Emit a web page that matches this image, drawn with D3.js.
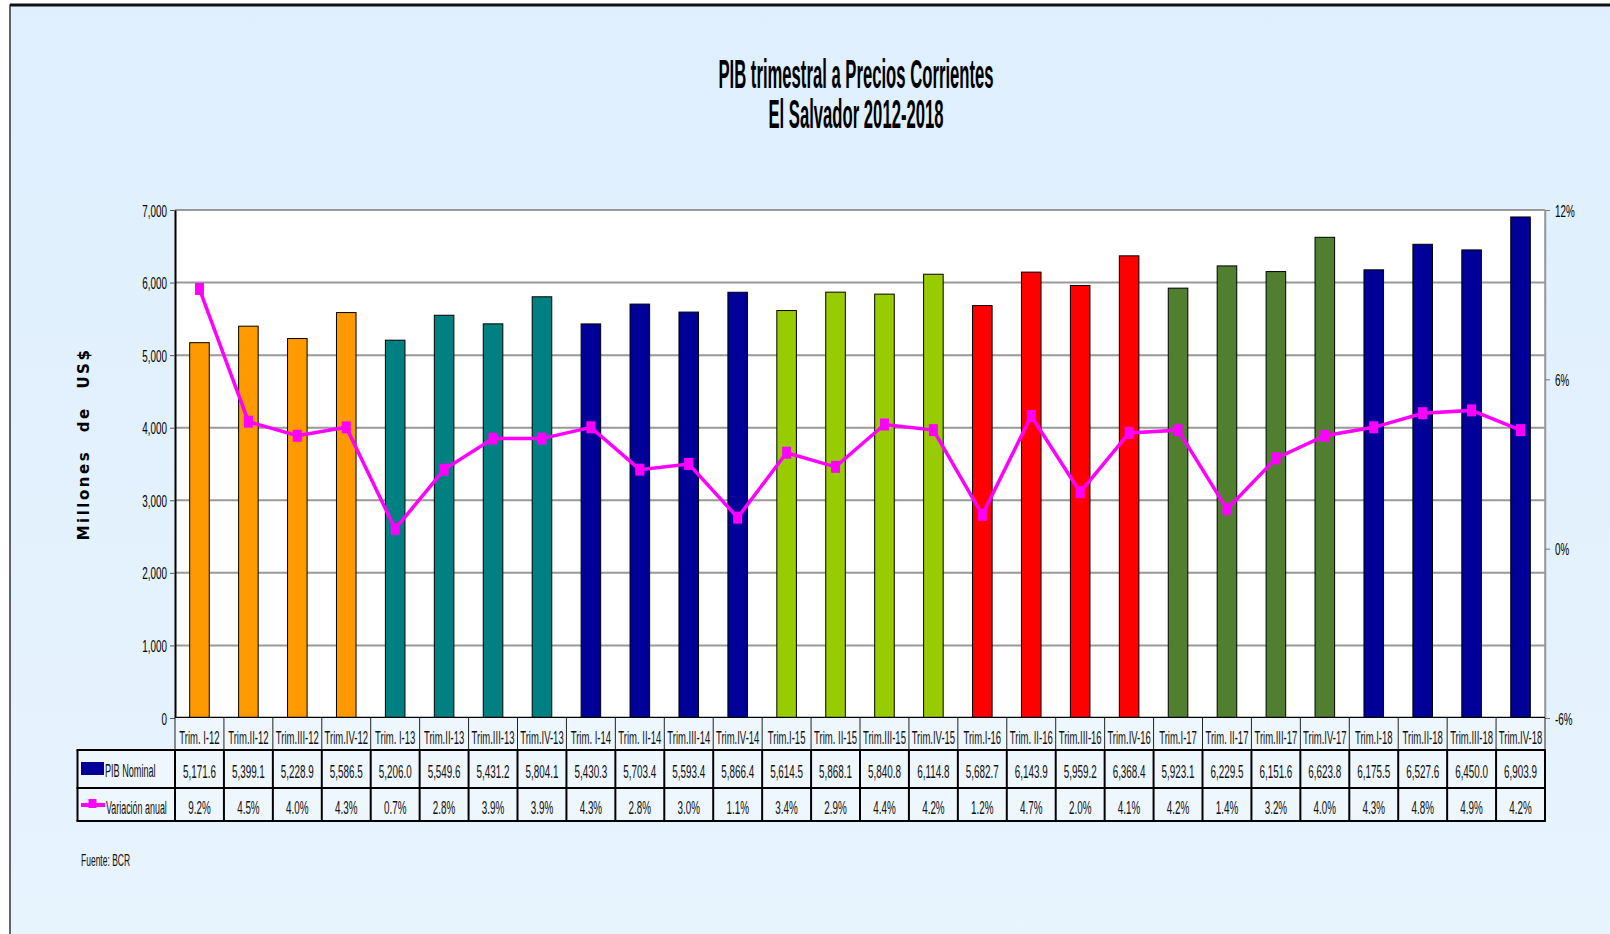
<!DOCTYPE html>
<html><head><meta charset="utf-8">
<script src="https://cdn.jsdelivr.net/npm/d3@7"></script>
<style>
html,body{margin:0;padding:0;background:#fff;overflow:hidden}
svg{display:block;font-family:"Liberation Sans",Arial,sans-serif}
</style></head><body><svg id="c" width="1610" height="934"></svg>
<script>
const categories = ["Trim. I-12","Trim.II-12","Trim.III-12","Trim.IV-12","Trim. I-13","Trim.II-13","Trim.III-13","Trim.IV-13","Trim. I-14","Trim. II-14","Trim.III-14","Trim.IV-14","Trim.I-15","Trim. II-15","Trim.III-15","Trim.IV-15","Trim.I-16","Trim. II-16","Trim.III-16","Trim.IV-16","Trim.I-17","Trim. II-17","Trim.III-17","Trim.IV-17","Trim.I-18","Trim.II-18","Trim.III-18","Trim.IV-18"];
const pibNominal = [5171.6,5399.1,5228.9,5586.5,5206.0,5549.6,5431.2,5804.1,5430.3,5703.4,5593.4,5866.4,5614.5,5868.1,5840.8,6114.8,5682.7,6143.9,5959.2,6368.4,5923.1,6229.5,6151.6,6623.8,6175.5,6527.6,6450.0,6903.9];
const variacionAnual = [9.2,4.5,4.0,4.3,0.7,2.8,3.9,3.9,4.3,2.8,3.0,1.1,3.4,2.9,4.4,4.2,1.2,4.7,2.0,4.1,4.2,1.4,3.2,4.0,4.3,4.8,4.9,4.2];
const yearOfCategory = [2012,2012,2012,2012,2013,2013,2013,2013,2014,2014,2014,2014,2015,2015,2015,2015,2016,2016,2016,2016,2017,2017,2017,2017,2018,2018,2018,2018];
const leftTicks = [0,1000,2000,3000,4000,5000,6000,7000];
const rightTicks = [-6,0,6,12];
const titleLines = ["PIB trimestral a Precios Corrientes","El Salvador 2012-2018"];
const seriesNames = ["PIB Nominal","Variación anual"];
const yAxisTitle = "Millones de US$";
const sourceNote = "Fuente: BCR";

const yearColor = {2012:"#FF9900",2013:"#008080",2014:"#000099",2015:"#99CC00",2016:"#FF0000",2017:"#4F7F2F",2018:"#000099"};
const pibColor = "#000099", lineColor = "#FF00FF";

const svg = d3.select("#c");
const defs = svg.append("defs");
const grad = defs.append("linearGradient").attr("id","bg").attr("x1",0).attr("y1",0).attr("x2",0).attr("y2",1);
grad.append("stop").attr("offset","0%").attr("stop-color","#dfeffd");
grad.append("stop").attr("offset","100%").attr("stop-color","#e8f4fe");

svg.append("rect").attr("x",10).attr("y",5).attr("width",1700).attr("height",1000)
  .attr("fill","url(#bg)").attr("stroke","#333").attr("stroke-width",1.5);
svg.append("line").attr("x1",10).attr("x2",1610).attr("y1",5).attr("y2",5).attr("stroke","#111").attr("stroke-width",3);

function txt(g, x, y, s, o) {
  return g.append("text")
    .attr("transform", `translate(${x},${y}) scale(${o.sx},1)`)
    .attr("text-anchor", o.anchor || "middle")
    .attr("font-size", o.size)
    .attr("font-weight", o.weight || "normal")
    .attr("fill", o.fill || "#000")
    .text(s);
}

// Title
titleLines.forEach((t,i)=>txt(svg, 856, 88 + i*40, t, {size:40, weight:"bold", sx:0.417}));

const L = 175, R = 1545, T = 210, B = 718;
const x = d3.scaleBand().domain(categories).range([L, R]).padding(0);
const y = d3.scaleLinear().domain([0, 7000]).range([B, T]);
const y2 = d3.scaleLinear().domain([-6, 12]).range([B, T]);
const bw = x.bandwidth();

svg.append("rect").attr("x",L).attr("y",T).attr("width",R-L).attr("height",B-T).attr("fill","#fff");

// gridlines
svg.append("g").selectAll("line").data(leftTicks.filter(d=>d>0)).join("line")
  .attr("x1",L).attr("x2",R).attr("y1",d=>y(d)).attr("y2",d=>y(d))
  .attr("stroke","#999").attr("stroke-width",2);
svg.append("line").attr("x1",R).attr("x2",R).attr("y1",T).attr("y2",B).attr("stroke","#999").attr("stroke-width",1.5);

// bars
svg.append("g").selectAll("rect").data(categories).join("rect")
  .attr("x",c=>x(c)+bw*0.3).attr("width",bw*0.4)
  .attr("y",(c,i)=>y(pibNominal[i])).attr("height",(c,i)=>B-y(pibNominal[i]))
  .attr("fill",(c,i)=>yearColor[yearOfCategory[i]])
  .attr("stroke","#000").attr("stroke-width",1);

// left axis
const ga = svg.append("g").attr("transform",`translate(${L},0)`)
  .call(d3.axisLeft(y).tickValues(leftTicks).tickSize(5).tickSizeOuter(0).tickFormat(d3.format(",")));
ga.select(".domain").attr("stroke","#000").attr("stroke-width",2);
ga.selectAll(".tick line").attr("stroke","#555");
ga.selectAll(".tick text").attr("x",null).attr("dy",null)
  .attr("transform","translate(-8,6) scale(0.58,1)")
  .attr("font-size",17).attr("font-family","Liberation Sans, Arial, sans-serif").attr("fill","#000");

// right axis
const gr = svg.append("g").attr("transform",`translate(${R},0)`)
  .call(d3.axisRight(y2).tickValues(rightTicks).tickSize(5).tickSizeOuter(0).tickFormat(d=>d+"%"));
gr.select(".domain").attr("stroke","#999").attr("stroke-width",1.5);
gr.selectAll(".tick line").attr("stroke","#777");
gr.selectAll(".tick text").attr("x",null).attr("dy",null)
  .attr("transform","translate(10,6) scale(0.58,1)")
  .attr("font-size",17).attr("font-family","Liberation Sans, Arial, sans-serif").attr("fill","#000");

// baseline
svg.append("line").attr("x1",L).attr("x2",R).attr("y1",B).attr("y2",B).attr("stroke","#000").attr("stroke-width",2.5);

// line series
const cx = i => x(categories[i]) + bw/2;
svg.append("path").datum(variacionAnual)
  .attr("d", d3.line().x((d,i)=>cx(i)).y(d=>y2(d)))
  .attr("fill","none").attr("stroke",lineColor).attr("stroke-width",3.5);
svg.append("g").selectAll("rect").data(variacionAnual).join("rect")
  .attr("x",(d,i)=>cx(i)-4.5).attr("y",d=>y2(d)-6).attr("width",9).attr("height",12)
  .attr("fill",lineColor);

// y-axis title
svg.append("text").attr("transform","translate(84,444) rotate(-90)")
  .attr("text-anchor","middle").attr("dominant-baseline","central")
  .attr("font-family","DejaVu Sans, Verdana, sans-serif").attr("font-weight","bold")
  .attr("font-size",15).attr("letter-spacing",2.5).attr("word-spacing",10).attr("fill","#000").text(yAxisTitle);

// table
const tbl = svg.append("g");
const r0 = [718,750], r1 = [750,788], r2 = [788,821], LX = 77.5;
const cellFill = "#eef6fe";
tbl.selectAll("rect.c0").data(categories).join("rect").attr("class","c0")
  .attr("x",c=>x(c)).attr("y",r0[0]).attr("width",bw).attr("height",r0[1]-r0[0]).attr("fill",cellFill);
tbl.append("rect").attr("x",LX).attr("y",r1[0]).attr("width",R-LX).attr("height",r2[1]-r1[0]).attr("fill",cellFill);
// vertical lines
const bounds = categories.map(c=>x(c)).concat([R]);
tbl.selectAll("line.v0").data(bounds).join("line").attr("class","v0")
  .attr("x1",d=>d).attr("x2",d=>d).attr("y1",r0[0]).attr("y2",r0[1]).attr("stroke","#222").attr("stroke-width",1);
tbl.selectAll("line.v1").data(bounds.concat([LX])).join("line").attr("class","v1")
  .attr("x1",d=>d).attr("x2",d=>d).attr("y1",r1[0]).attr("y2",r2[1]).attr("stroke","#000").attr("stroke-width",2);
[r1[0], r2[0], r2[1]].forEach(yy=>tbl.append("line").attr("x1",LX-1).attr("x2",R+1).attr("y1",yy).attr("y2",yy).attr("stroke","#000").attr("stroke-width",2));

const fmtPib = d3.format(",.1f"), fmtVar = d => d3.format(".1f")(d) + "%";
categories.forEach((c,i)=>{
  txt(tbl, cx(i), 744, c, {size:19, sx:0.5, fill:"#111"});
  txt(tbl, cx(i), 778, fmtPib(pibNominal[i]), {size:19, sx:0.52, fill:"#111"});
  txt(tbl, cx(i), 814, fmtVar(variacionAnual[i]), {size:19, sx:0.52, fill:"#111"});
});

// legend in table
tbl.append("rect").attr("x",81).attr("y",762).attr("width",23).attr("height",13).attr("fill",pibColor);
txt(tbl, 105, 777, seriesNames[0], {size:19, sx:0.48, anchor:"start", fill:"#111"});
tbl.append("line").attr("x1",81).attr("x2",105).attr("y1",805).attr("y2",805).attr("stroke",lineColor).attr("stroke-width",4);
tbl.append("rect").attr("x",88.5).attr("y",799).attr("width",8).attr("height",9).attr("fill",lineColor);
txt(tbl, 106, 814, seriesNames[1], {size:19, sx:0.47, anchor:"start", fill:"#111"});

// source
txt(svg, 81, 866, sourceNote, {size:17, sx:0.5, anchor:"start", fill:"#111"});
</script></body></html>
